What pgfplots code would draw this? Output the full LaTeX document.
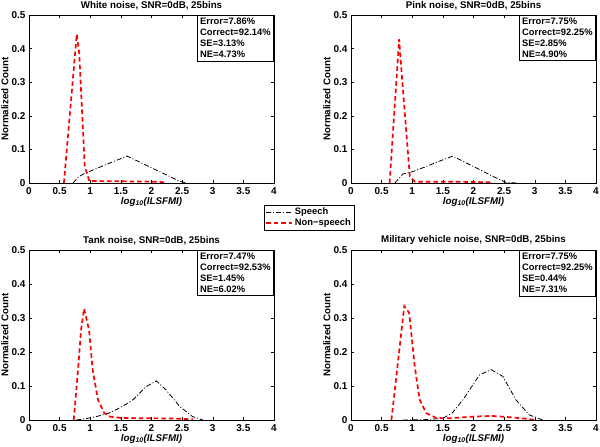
\documentclass[border=0pt]{standalone}
\usepackage{fontspec}
\setmainfont{Liberation Sans}
\usepackage{pgfplots}
\pgfplotsset{compat=1.18}
\tikzset{
 speech/.style={black, line width=0.8bp, dash pattern=on 5bp off 2bp on 1bp off 2bp},
 nonspeech/.style={red, line width=1.7bp, dash pattern=on 4.5bp off 3bp},
 statbox/.style={draw=black, line width=0.6bp, fill=white, anchor=north east, align=left, inner sep=3bp, font=\fontsize{9.4}{11}\selectfont\bfseries},
}
\pgfplotsset{
 myax/.style={
  scale only axis, width=245bp,
  xmin=0,xmax=4,ymin=0,ymax=0.5,
  xtick={0,0.5,1,1.5,2,2.5,3,3.5,4},
  ytick={0,0.1,0.2,0.3,0.4,0.5},
  axis line style={line width=0.6bp},
  tick style={line width=0.5bp, black},
  tick align=inside, major tick length=3bp,
  xtick pos=both, ytick pos=both,
  tick label style={font=\fontsize{10}{11}\selectfont\bfseries},
  xticklabel style={yshift=-1.2bp},
  /pgf/number format/assume math mode=true,
  title style={font=\fontsize{9.8}{11}\selectfont\bfseries, at={(axis description cs:0.5,1)}, anchor=center, yshift=3.6bp},
  xlabel style={font=\fontsize{9.8}{11}\selectfont\bfseries\itshape, at={(axis description cs:0.5,0)}, anchor=center, yshift=-18.5bp},
  ylabel style={font=\fontsize{9.8}{11}\selectfont\bfseries, at={(axis description cs:0,0.5)}, anchor=center, yshift=24bp},
  xlabel={log\textsubscript{10}(ILSFMI)},
  ylabel={Normalized Count},
 },
}
\begin{document}
\begin{tikzpicture}
\useasboundingbox (0bp,0bp) rectangle (600bp,447bp);
% Top-left
\begin{axis}[myax, height=168bp, at={(29bp,264bp)}, anchor=south west,
  title={White noise, SNR=0dB, 25bins},
  legend style={at={(axis description cs:1.143,-0.205)}, anchor=center, draw=black, fill=white,
    font=\fontsize{9.4}{10}\selectfont\bfseries, inner sep=1bp, row sep=-1.5bp, cells={anchor=west}},
  legend image code/.code={\draw[#1] (0bp,0bp) -- (26bp,0bp);},
]
\addplot[speech] coordinates {(0.72,0) (0.8,0.017) (0.89,0.027) (1.1,0.043) (1.3,0.058) (1.45,0.069) (1.6,0.08) (1.8,0.063) (2.0,0.045) (2.2,0.028) (2.46,0.005) (2.57,0)};
\addlegendentry{Speech}
\addplot[nonspeech] coordinates {(0.57,0) (0.78,0.443) (0.82,0.386) (0.91,0.05) (0.985,0.006) (1.5,0.005) (2.0,0.004) (2.25,0.002)};
\addlegendentry{Non−speech}
\node[statbox] at (rel axis cs:1,1) {Error=7.86\%\\Correct=92.14\%\\SE=3.13\%\\NE=4.73\%};
\end{axis}
% Top-right
\begin{axis}[myax, height=168bp, at={(351bp,264bp)}, anchor=south west,
  title={Pink noise, SNR=0dB, 25bins}]
\addplot[speech] coordinates {(0.715,0) (0.85,0.027) (0.99,0.033) (1.2,0.047) (1.4,0.062) (1.66,0.08) (1.9,0.058) (2.1,0.04) (2.3,0.021) (2.53,0.002) (2.7,0)};
\addplot[nonspeech] coordinates {(0.63,0) (0.786,0.428) (0.83,0.32) (0.96,0.02) (1.04,0.004) (1.5,0.004) (2.0,0.003) (2.31,0.002)};
\node[statbox] at (rel axis cs:1,1) {Error=7.75\%\\Correct=92.25\%\\SE=2.85\%\\NE=4.90\%};
\end{axis}
% Bottom-left
\begin{axis}[myax, height=170bp, at={(29bp,27bp)}, anchor=south west,
  title={Tank noise, SNR=0dB, 25bins}]
\addplot[speech] coordinates {(0.77,0) (0.9,0.003) (1.1,0.01) (1.3,0.02) (1.42,0.03) (1.6,0.048) (1.7,0.06) (1.91,0.098) (2.08,0.115) (2.24,0.088) (2.46,0.04) (2.67,0.01) (2.84,0)};
\addplot[nonspeech] coordinates {(0.73,0) (0.80,0.147) (0.85,0.265) (0.9,0.328) (0.98,0.265) (1.04,0.147) (1.125,0.06) (1.23,0.02) (1.32,0.01) (1.5,0.006) (2.0,0.005) (2.4,0.004) (2.68,0.002)};
\node[statbox] at (rel axis cs:1,1) {Error=7.47\%\\Correct=92.53\%\\SE=1.45\%\\NE=6.02\%};
\end{axis}
% Bottom-right
\begin{axis}[myax, height=170bp, at={(351bp,27bp)}, anchor=south west,
  title={Military vehicle noise, SNR=0dB, 25bins}]
\addplot[speech] coordinates {(0.85,0) (1.2,0.001) (1.5,0.005) (1.65,0.02) (1.83,0.06) (2.1,0.133) (2.29,0.148) (2.48,0.128) (2.69,0.06) (2.91,0.015) (3.13,0)};
\addplot[nonspeech] coordinates {(0.66,0) (0.87,0.335) (0.95,0.315) (1.04,0.158) (1.12,0.06) (1.23,0.02) (1.39,0.006) (1.6,0.005) (2.0,0.01) (2.3,0.012) (2.6,0.008) (2.9,0.003) (3.0,0)};
\node[statbox] at (rel axis cs:1,1) {Error=7.75\%\\Correct=92.25\%\\SE=0.44\%\\NE=7.31\%};
\end{axis}
\end{tikzpicture}
\end{document}
